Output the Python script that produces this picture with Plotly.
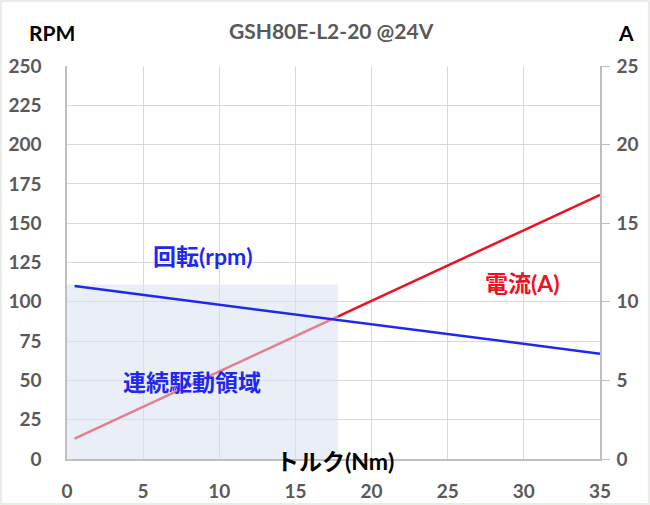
import plotly.graph_objects as go

# ---- data ----
torque = [0.5, 35]          # Nm
rpm = [110, 67]             # rotation speed
current = [1.3, 16.8]       # A
region_torque = [0, 17.8]   # continuous drive region (Nm)
region_rpm = [0, 111]       # continuous drive region (rpm)

x_ticks = [0, 5, 10, 15, 20, 25, 30, 35]
rpm_ticks = [0, 25, 50, 75, 100, 125, 150, 175, 200, 225, 250]
amp_ticks = [0, 5, 10, 15, 20, 25]

title_text = "GSH80E-L2-20 @24V"

FONT = "Lato, 'Noto Sans CJK JP', sans-serif"
TICKC = "#595959"
GRID = "#d9d9d9"
AXL = "#bfbfbf"

fig = go.Figure()

# current on base axis (A, right side)
fig.add_trace(go.Scatter(x=torque, y=current, mode="lines",
                         line=dict(color="#f01020", width=2.5),
                         yaxis="y", xaxis="x", hoverinfo="skip", showlegend=False))

# shaded region on rpm axis (overlay)
rx0, rx1 = region_torque
ry0, ry1 = region_rpm
fig.add_trace(go.Scatter(x=[rx0, rx0, rx1, rx1, rx0], y=[ry0, ry1, ry1, ry0, ry0],
                         mode="lines", fill="toself",
                         fillcolor="rgba(217,223,239,0.54)",
                         line=dict(width=0), yaxis="y2", xaxis="x",
                         hoverinfo="skip", showlegend=False))

# rpm line
fig.add_trace(go.Scatter(x=torque, y=rpm, mode="lines",
                         line=dict(color="#1e28f0", width=2.5),
                         yaxis="y2", xaxis="x", hoverinfo="skip", showlegend=False))

TF = dict(size=19, color=TICKC, family=FONT, weight="bold")
fig.update_layout(
    width=650, height=505,
    margin=dict(l=67, r=50, t=66, b=46, autoexpand=False),
    paper_bgcolor="white", plot_bgcolor="white",
    font=dict(family=FONT),
    xaxis=dict(range=[0, 35], tickvals=x_ticks, showgrid=True, gridcolor=GRID,
               gridwidth=1, showline=True, linecolor=AXL, linewidth=1.5,
               ticks="", zeroline=False, ticklabelstandoff=14, automargin=False,
               tickfont=TF),
    yaxis=dict(range=[0, 25], tickvals=amp_ticks, side="right", showgrid=False,
               showline=True, linecolor=AXL, linewidth=1.5, ticks="outside",
               ticklen=8, tickcolor=AXL, zeroline=False, ticklabelstandoff=3,
               automargin=False, tickfont=TF),
    yaxis2=dict(range=[0, 250], tickvals=rpm_ticks, side="left", overlaying="y",
                showgrid=True, gridcolor=GRID, gridwidth=1, showline=True,
                linecolor=AXL, linewidth=1.5, ticks="", zeroline=False,
                ticklabelstandoff=20, automargin=False, tickfont=TF),
)

def A(text, x, y, xref, yref, size, color):
    return dict(text=text, x=x, y=y, xref=xref, yref=yref, showarrow=False,
                xanchor="center", yanchor="middle",
                font=dict(size=size, color=color, family=FONT, weight="bold"))

ann = [
    A(title_text, 0.497, 1.0916, "paper", "paper", 21, TICKC),
    A("RPM", -0.028, 1.084, "paper", "paper", 21, "black"),
    A("A", 1.049, 1.084, "paper", "paper", 21, "black"),
    A("トルク(Nm)", 17.6, -0.005, "x", "paper", 23, "black"),
    A("回転(rpm)", 8.93, 129, "x", "y2", 23, "#1e28f0"),
    A("電流(A)", 29.9, 112, "x", "y2", 23, "#f01020"),
    A("連続駆動領域", 8.2, 49, "x", "y2", 23, "#1e28f0"),
]
fig.update_layout(annotations=ann)

# thin outer frame of the image
fig.add_shape(type="rect", xref="paper", yref="paper",
              x0=-66/533, x1=1 + 49/533, y0=-45/393, y1=1 + 65/393,
              line=dict(color="#dfe8df", width=1.5), layer="below")

fig.write_html("out.html", config={"displayModeBar": False},
               post_script="document.body.style.margin='0';document.body.style.overflow='hidden';")
